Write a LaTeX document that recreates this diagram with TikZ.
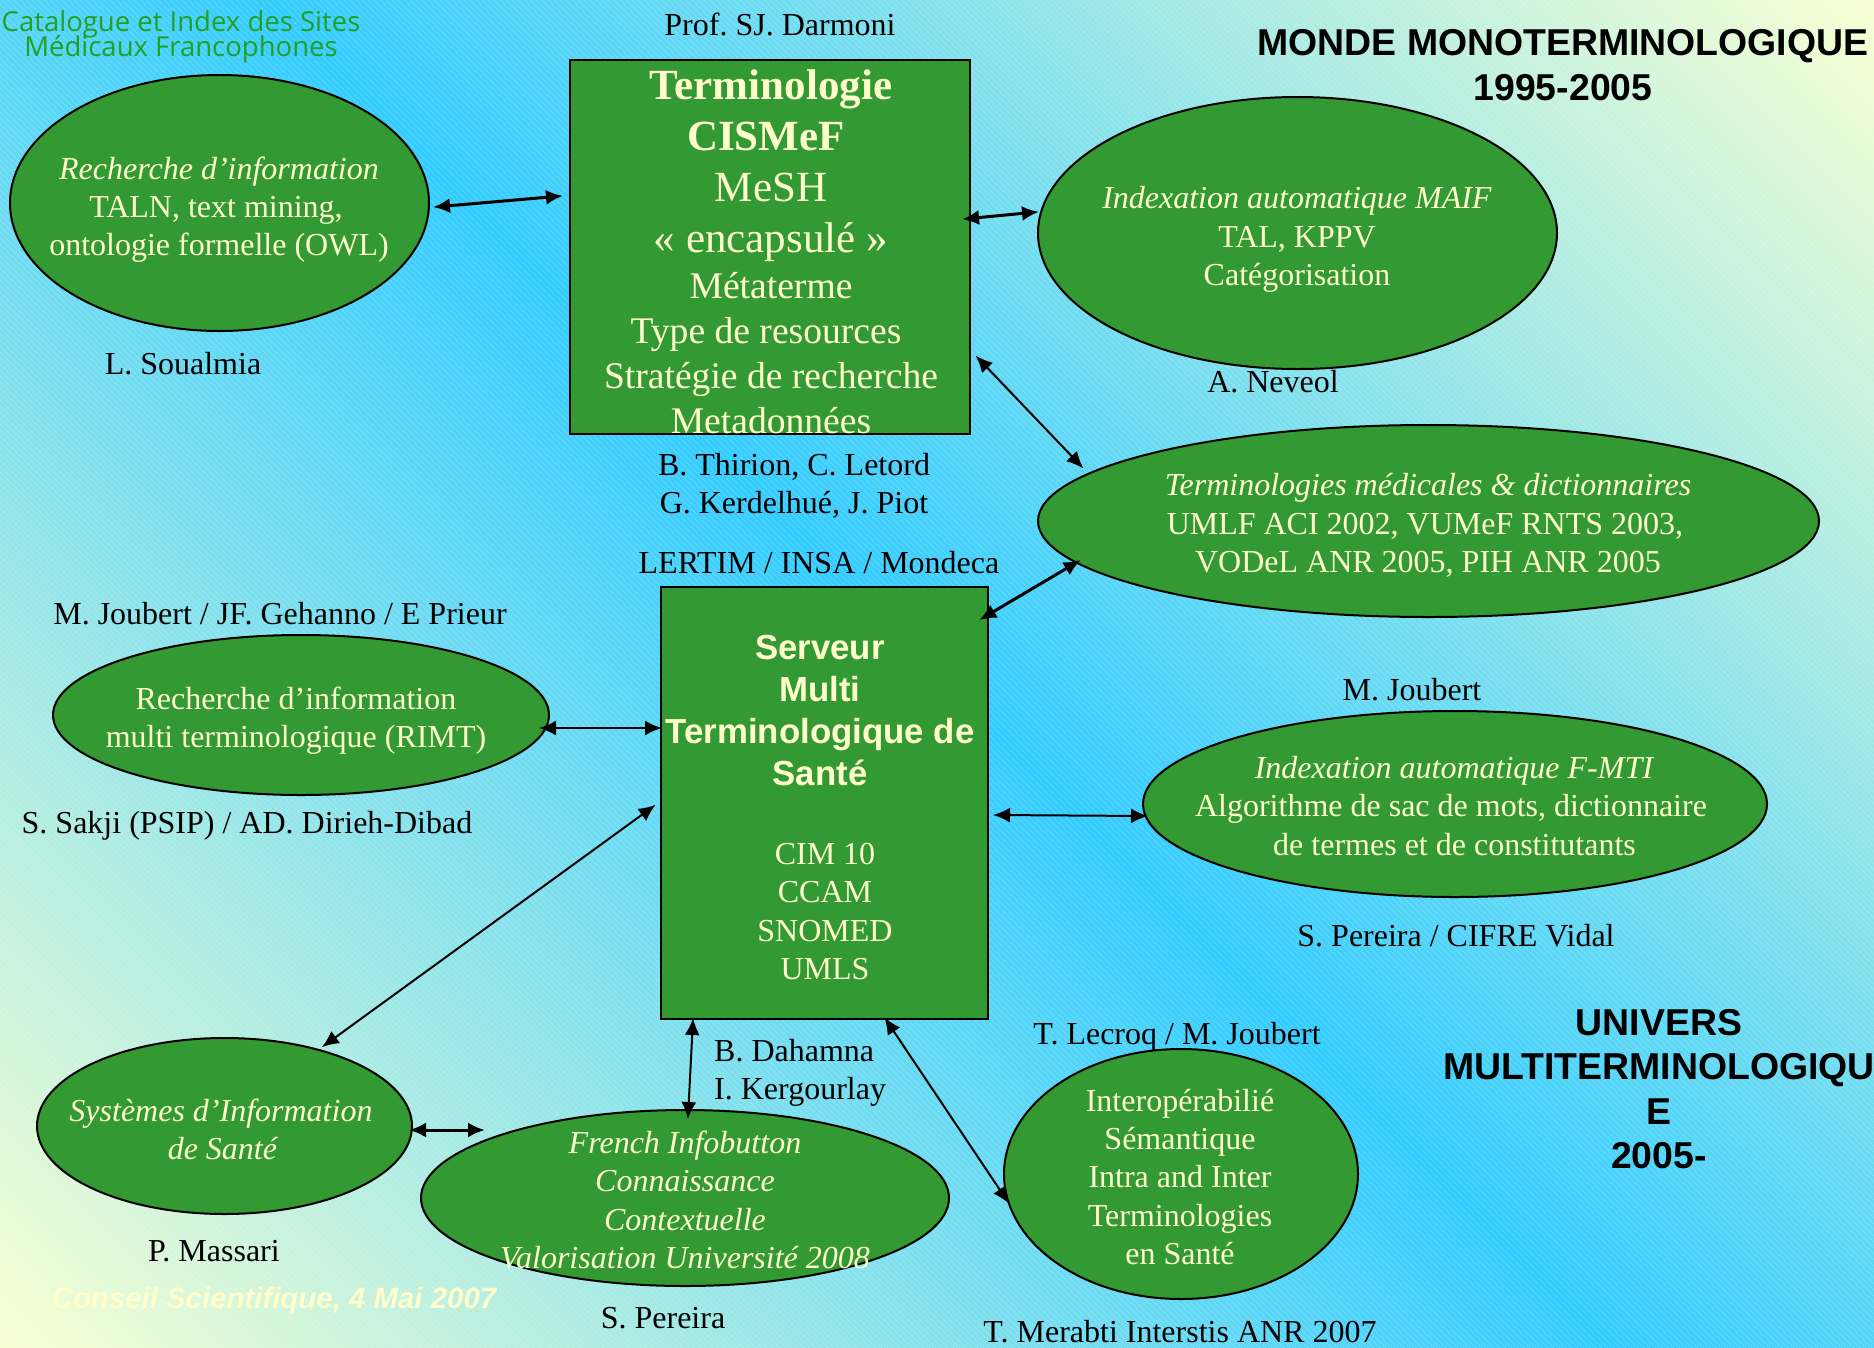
\documentclass[tikz,border=0pt]{standalone}
\usepackage{fontspec}
\setmainfont{Liberation Serif}
\setsansfont{Liberation Sans}
\newfontfamily\logofont{Open Sans}
\usetikzlibrary{arrows.meta,shapes.geometric,patterns.meta}
\definecolor{blobGreen}{HTML}{339933}
\definecolor{paleText}{HTML}{FFFFCC}
\definecolor{skyBand}{HTML}{33CCFF}
\definecolor{cornerYellow}{HTML}{F8FFD2}
\definecolor{logoGreen}{HTML}{22A022}
\frenchspacing

\begin{document}
\begin{tikzpicture}[
  x=1pt,y=-1pt,
  every blob/.style={
    draw=black,
    line width=2pt,
    fill=blobGreen,
    inner sep=0pt,
  },
  blob/.style n args={2}{
    every blob/.try,
    ellipse,
    minimum width=#1,
    minimum height=#2,
  },
  square box/.style={
    draw=black,
    line width=2pt,
    fill=blobGreen,
    inner sep=0pt,
    rectangle,
    minimum width=#1,
  },
  blob text/.style={
    text=paleText,
    align=center,
    inner sep=0pt,
    font=\fontsize{32}{38.2}\selectfont,
  },
  caption/.style={
    text=black,
    align=center,
    inner sep=0pt,
    font=\fontsize{32}{38}\selectfont,
  },
  heading/.style={
    text=black,
    align=center,
    inner sep=0pt,
    font=\fontsize{37.4}{44.5}\selectfont\sffamily\bfseries,
  },
  link/.style={
    {Latex[length=17pt,width=15pt]}-{Latex[length=17pt,width=15pt]},
    line width=2pt,
    draw=black,
    shorten <=-2pt,
    shorten >=-2pt,
  },
  thick link/.style={
    link,
    line width=3pt,
  },
]
\useasboundingbox (0,0) rectangle (1874,1347);
% background band at 45 degrees, with its fine stripes
\begin{scope}
  \clip (0,0) rectangle (1874,1347);
  \fill[shading=axis,top color=cornerYellow,bottom color=cornerYellow,middle color=skyBand,shading angle=-45] (-202,-465.5) rectangle (2076,1812.5);
  \fill[pattern={Lines[angle=-45,distance=4pt,line width=.7pt]},pattern color=white,opacity=.22] (0,0) rectangle (1874,1347);
\end{scope}

% logo and footer
\node[text=logoGreen,align=center,inner sep=0pt,font=\fontsize{27.5}{24}\selectfont\logofont] (logo) at (181,37) {Catalogue et Index des Sites\\[-3pt] Médicaux Francophones};
\node[text=paleText,inner sep=0pt,font=\fontsize{29.4}{30}\selectfont\sffamily\bfseries\itshape] (footer) at (274,1301) {Conseil Scientifique, 4 Mai 2007};

% boxes
\node[square box=400pt,minimum height=374pt] (term) at (770,247) {};
\node[square box=327pt,minimum height=432pt] (serv) at (824.5,803) {};

% ellipses
\foreach \name/\x/\y/\rx/\ry in {
  rech/219.5/203/419/256, maif/1297.5/233/519/272, dico/1428.5/521/781/192,
  rimt/301/715/496/160, fmti/1455/804/624/186, sis/224.5/1126/375/176,
  info/685/1198/528/176, inter/1181/1174/354/250}
{
  \node[blob={\rx pt}{\ry pt}] (\name) at (\x,\y) {};
}

% texts inside
\node[blob text] (rechT) at (219,209.5) {\textit{Recherche d’information}\\ \hspace*{-6pt}TALN, text mining,\\ ontologie formelle (OWL)};
\node[blob text] (maifT) at (1297,239.5) {\textit{Indexation automatique MAIF}\\ TAL, KPPV\\ Catégorisation};
\node[blob text] (dicoT) at (1428,525.5) {\textit{Terminologies médicales \& dictionnaires}\\ \hspace*{-6pt}UMLF ACI 2002, VUMeF RNTS 2003,\\ VODeL ANR 2005, PIH ANR 2005};
\node[blob text] (rimtT) at (296,720.5) {Recherche d’information\\ multi terminologique (RIMT)};
\node[blob text] (fmtiT) at (1451,806) {\hspace*{7pt}\textit{Indexation automatique F-MTI}\\ Algorithme de sac de mots, dictionnaire\\ \hspace*{7pt}de termes et de constitutants};
\node[blob text] (sisT) at (221,1129) {\textit{Systèmes d’Information}\\ \hspace*{4pt}\textit{de Santé}};
\node[blob text,font=\fontsize{32}{38.2}\selectfont\itshape] (infoT) at (685,1200) {French Infobutton\\ Connaissance\\ Contextuelle\\ Valorisation Université 2008};
\node[blob text] (interT) at (1180,1177) {Interopérabilié\\ Sémantique\\ Intra and Inter\\ Terminologies\\ en Santé};
\node[blob text,font=\fontsize{43}{51}\selectfont] (termT) at (771,165.5) {\textbf{Terminologie}\\ \hspace*{-10pt}\textbf{CISMeF}\\ MeSH\\ « encapsulé »};
\node[blob text,font=\fontsize{37.6}{45}\selectfont] (termL) at (771,353) {Métaterme\\ \hspace*{-10pt}Type de resources\\ Stratégie de recherche\\ Metadonnées};
\node[blob text,font=\fontsize{34.8}{42}\selectfont\sffamily\bfseries] (servT) at (820,710.5) {Serveur\\ Multi\\ Terminologique de\\ Santé};
\node[blob text] (servL) at (825,911.5) {CIM 10\\ CCAM\\ SNOMED\\ UMLS};

% names
\foreach \name/\x/\y/\txt in {
  darmoni/780/24/{Prof. SJ. Darmoni},
  soualmia/183/364/{L. Soualmia},
  neveol/1273/382/{A. Neveol},
  thirion/794/486/{B. Thirion, C. Letord\\ G. Kerdelhué, J. Piot},
  lertim/819/563/{LERTIM / INSA / Mondeca},
  joubertA/280/614/{M. Joubert / JF. Gehanno / E Prieur},
  sakji/247/826/{S. Sakji (PSIP) / AD. Dirieh-Dibad},
  joubertB/1412/690/{M. Joubert},
  pereiraA/1456/936/{S. Pereira / CIFRE Vidal},
  lecroq/1177/1037/{T. Lecroq / M. Joubert},
  massari/214/1251/{P. Massari},
  pereiraB/663/1318/{S. Pereira},
  merabti/1180/1332/{T. Merabti Interstis ANR 2007}}
{
  \node[caption] (\name) at (\x,\y) {\txt};
}
\node[caption,anchor=west,align=left] (dahamna) at (714,1073) {B. Dahamna\\ I. Kergourlay};

% right hand titles
\node[heading] (monde) at (1563,65) {MONDE MONOTERMINOLOGIQUE\\ 1995-2005};
\node[heading] (univers) at (1659,1089) {UNIVERS\\ MULTITERMINOLOGIQU\\ E\\ 2005-};

% links
\draw[thick link] ([shift={(5,4)}]rech.east) -- ([shift={(-8,-51)}]term.west);
\draw[thick link] ([shift={(-7,-28)}]term.east) -- ([shift={(0,-21)}]maif.west);
\draw[link] ([shift={(6,110)}]term.east) -- ([shift={(45,-54)}]dico.west);
\draw[thick link] ([shift={(-8,33)}]serv.north east) -- ([shift={(42,40)}]dico.west);
\draw[link] ([shift={(-9,13)}]rimt.east) -- ([shift={(0,-75)}]serv.west);
\draw[link] ([shift={(6,12)}]serv.east) -- ([shift={(4,12)}]fmti.west);
\draw[link] ([shift={(-6,3)}]serv.west) -- ([shift={(99,9)}]sis.north);
\draw[thick link] ([shift={(-2,4)}]sis.east) -- ([shift={(63,-68)}]info.west);
\draw[link] ([shift={(33,0)}]serv.south west) -- ([shift={(3,8)}]info.north);
\draw[link] ([shift={(61,-1)}]serv.south) -- ([shift={(5,28)}]inter.west);
\end{tikzpicture}
\end{document}
